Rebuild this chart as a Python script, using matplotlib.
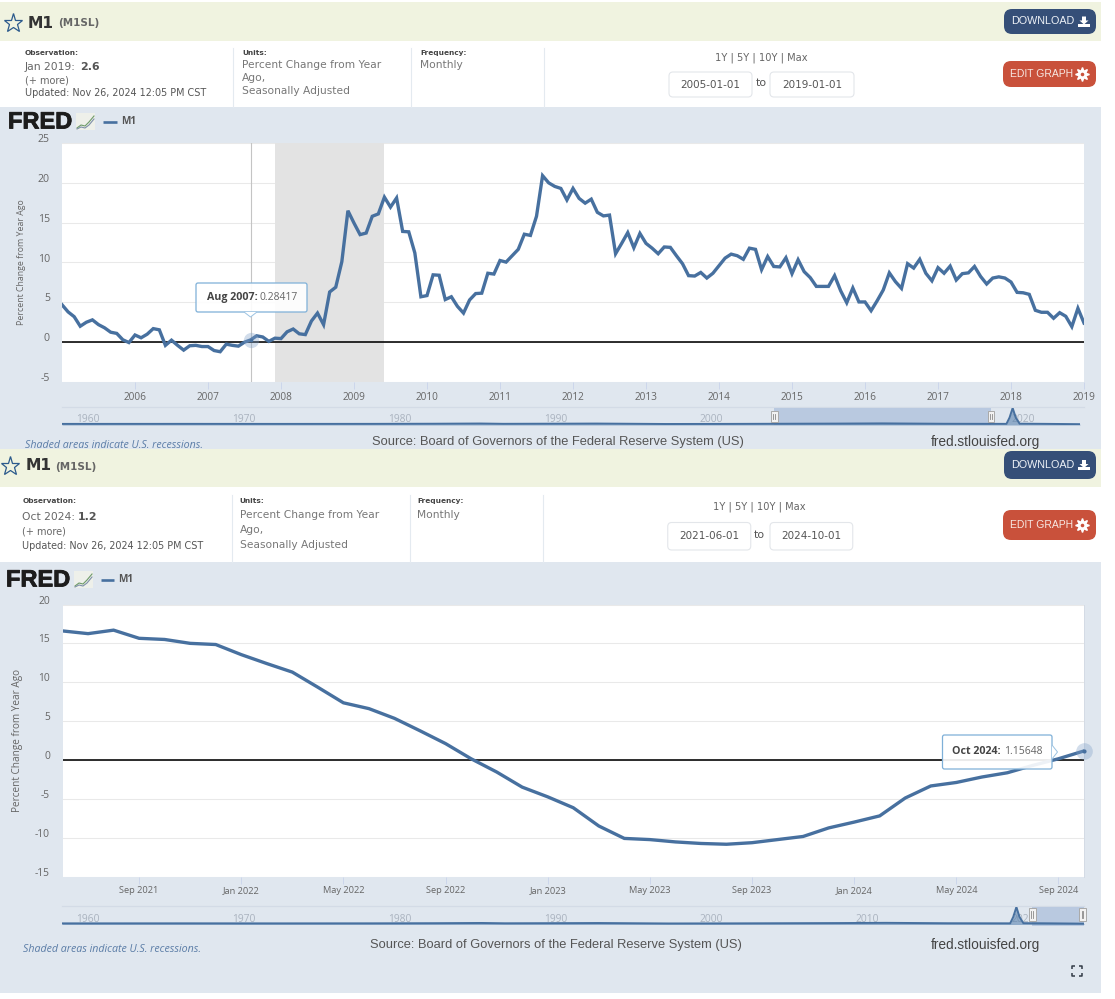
import matplotlib
matplotlib.use("Agg")
import matplotlib.pyplot as plt
import matplotlib.patheffects as pe
import numpy as np
from matplotlib.patches import Rectangle, FancyBboxPatch, Polygon
from matplotlib.transforms import ScaledTranslation

W, H = 1115, 999
BEIGE = '#f0f3e0'; PANEL = '#e0e7ef'; LINE = '#47709f'; GRID = '#e9e9e9'; TICK = '#666666'
SANS = 'Open Sans'; HEAD = 'DejaVu Sans'; SRC = 'Liberation Sans'

# ---------- data ----------
m1_long = [4.7,3.8,3.2,2.0,2.5,2.8,2.2,1.8,1.25,1.1,0.3,-0.05,
           0.9,0.55,1.0,1.7,1.55,-0.4,0.25,-0.4,-1.0,-0.45,-0.4,-0.55,
           -0.55,-1.05,-1.2,-0.25,-0.4,-0.5,0.0,0.28417,0.8,0.65,0.1,0.5,
           0.45,1.3,1.65,1.05,0.95,2.65,3.65,2.2,6.3,6.9,10.1,16.5,
           14.95,13.5,13.7,15.8,16.1,18.2,16.95,18.1,13.9,13.85,11.2,5.7,
           5.85,8.45,8.4,5.35,5.7,4.5,3.65,5.3,6.1,6.15,8.65,8.55,
           10.25,10.05,10.85,11.65,13.55,13.4,15.8,20.9,20.0,19.55,19.3,17.85,
           19.3,18.05,17.45,17.95,16.3,15.85,15.95,11.1,12.4,13.75,11.85,13.65,
           12.4,11.8,11.1,11.95,11.9,10.85,9.85,8.35,8.3,8.75,8.05,8.65,
           9.6,10.55,11.05,10.85,10.4,11.8,11.65,9.1,10.75,9.5,9.45,10.6,
           8.6,10.35,8.85,8.1,7.0,7.0,7.0,8.35,6.45,4.95,6.8,5.05,
           5.05,3.95,5.2,6.55,8.7,7.6,6.75,9.85,9.3,10.4,8.65,7.7,
           9.35,8.65,9.55,7.8,8.6,8.7,9.5,8.25,7.3,8.05,8.2,8.05,
           7.55,6.25,6.2,6.0,4.0,3.75,3.75,3.0,3.7,3.25,1.95,4.25,2.4]
m1_short = [16.6,16.25,16.7,15.65,15.5,15.0,14.85,13.55,12.4,11.3,9.35,7.35,6.6,5.35,
            3.75,2.1,0.15,-1.55,-3.5,-4.75,-6.15,-8.5,-10.1,-10.25,-10.55,-10.75,-10.85,
            -10.65,-10.25,-9.85,-8.75,-8.0,-7.2,-4.9,-3.35,-2.9,-2.2,-1.65,-0.7,0.15,1.15648]
long_years = ['2006','2007','2008','2009','2010','2011','2012','2013','2014','2015','2016','2017','2018','2019']
long_year_pos = [12,24,36,48,60,72,84,96,108,120,132,144,156,168]
short_labels = ['Sep 2021','Jan 2022','May 2022','Sep 2022','Jan 2023','May 2023','Sep 2023','Jan 2024','May 2024','Sep 2024']
short_pos = [3,7,11,15,19,23,27,31,35,39]
long_yticks = [-5,0,5,10,15,20,25]
short_yticks = [-15,-10,-5,0,5,10,15,20]
recession_start, recession_end = 35, 53
nav_years = [1959,1967,1973,1979,1983,1986,1987.5,1992,1993.5,1998,2002,2009,2012,2016,2020.0,2020.2,2020.4,2020.6,2020.85,2022.5,2024.75]
nav_vals = [5,6,5,6,9,14,7,11,13,3,5,12,17,8,6,150,370,150,10,6,-1]
nav_labels = ['1960','1970','1980','1990','2000','2010','2020']

# ---------- helpers ----------
fig = plt.figure(figsize=(W/100, H/100), dpi=100, facecolor='white')
def px_axes(x0, y0, x1, y1, **kw):
    return fig.add_axes([x0/W, 1-y1/H, (x1-x0)/W, (y1-y0)/H], **kw)

bg = px_axes(0, 0, W, H); bg.set_xlim(0, W); bg.set_ylim(H, 0); bg.axis('off'); bg.set_zorder(0)
top = px_axes(0, 0, W, H); top.set_xlim(0, W); top.set_ylim(H, 0); top.axis('off'); top.set_zorder(5); top.patch.set_alpha(0)

def T(x, y, s, size, color='#555555', weight='normal', ha='left', family=HEAD, style='normal', ax=bg, z=6, **kw):
    return ax.text(x, y, s, fontsize=size*0.72, color=color, fontweight=weight, ha=ha, va='center',
                   family=family, fontstyle=style, zorder=z, **kw)

def R(x0, y0, x1, y1, color, z=1, ax=bg, **kw):
    ax.add_patch(Rectangle((x0, y0), x1-x0, y1-y0, facecolor=color, edgecolor='none', zorder=z, **kw))

def RB(x0, y0, x1, y1, rad, fc, ec='none', z=3, ax=bg, lw=0.8):
    ax.add_patch(FancyBboxPatch((x0+rad, y0+rad), x1-x0-2*rad, y1-y0-2*rad, boxstyle=f'round,pad={rad},rounding_size={rad}',
                                facecolor=fc, edgecolor=ec, lw=lw, zorder=z, mutation_aspect=1))

def header(y_top, y_mid, y_pan, dx, star, my, obs_y, val, obs_s, dates, ysep, units_y, right_y, dl, ed):
    R(0, y_top, 1100.5, y_mid, BEIGE, z=5)
    R(0, y_mid, 1100.5, y_pan, 'white', z=5)
    bg.plot([star], [my], marker='*', ms=14, mfc='none', mec='#2c5a8c', mew=0.9, zorder=6)
    T(28-dx, my, 'M1', 15.5, '#333333', 'bold')
    T(58-dx, my+0.5, '(M1SL)', 10.4, '#666666', 'bold')
    T(25-dx, obs_y[0], 'Observation:', 7.4, '#444444', 'bold')
    T(25-dx, obs_y[1], obs_s, 10.7, '#666666')
    T(81-dx-0.5, obs_y[1], val, 11, '#555555', 'bold')
    T(25-dx, obs_y[2], '(+ more)', 9.8, '#666666')
    T(25-dx, obs_y[3], 'Updated: Nov 26, 2024 12:05 PM CST', 9.7, '#555555')
    for xs in ysep[1]:
        bg.plot([xs, xs], [ysep[0], y_pan], color='#e4eaf0', lw=0.8, zorder=6)
    T(242-dx, obs_y[0], 'Units:', 7.4, '#444444', 'bold')
    T(420-dx, obs_y[0], 'Frequency:', 7.4, '#444444', 'bold')
    for yy, s in zip(units_y, ['Percent Change from Year', 'Ago,', 'Seasonally Adjusted']):
        T(242-dx, yy, s, 10.6, '#777777')
    T(420-dx, units_y[0], 'Monthly', 10.6, '#777777')
    T(761-dx/2, right_y[0], '1Y | 5Y | 10Y | Max', 9.9, '#666666', ha='center')
    for (a, b), s in zip([(669-dx/2, 752-dx/2), (770, 854-dx/2)], dates):
        RB(a, right_y[1], b, right_y[2], 4, 'white', '#e3e6ea', z=6)
        T((a+b)/2, (right_y[1]+right_y[2])/2, s, 10.4, '#555555', ha='center', z=7)
    T(761-dx/2, (right_y[1]+right_y[2])/2-1, 'to', 11, '#555555', ha='center')
    RB(1004, dl[0], 1096, dl[1], 8, '#354f78', z=6)
    T(1011, (dl[0]+dl[1])/2, 'DOWNLOAD', 10.7, '#eef2f7', z=7, family=SRC)
    cy = (dl[0]+dl[1])/2
    bg.add_patch(Polygon([[1082, cy-5], [1086, cy-5], [1086, cy-1], [1088.5, cy-1], [1084, cy+3], [1079.5, cy-1], [1082, cy-1]],
                         facecolor='white', edgecolor='none', zorder=7))
    R(1078, cy+2, 1090, cy+5, 'white', z=7)
    RB(1003, ed[0], 1096, ed[1], 8, '#c9513b', z=6)
    T(1010, (ed[0]+ed[1])/2, 'EDIT GRAPH', 10.4, '#f7e9e4', z=7, family=SRC)
    bg.plot([1082], [(ed[0]+ed[1])/2], marker=(8, 1, 0), ms=10, mfc='white', mec='white', zorder=7)
    bg.plot([1082], [(ed[0]+ed[1])/2], marker='o', ms=2.6, mfc='#c9513b', mec='none', zorder=8)

def fred(x, y, icon_x, dash, mx):
    t = T(x, y, 'FRED', 23.6, '#1c1c1c', 'bold', family=SRC, z=6)
    t.set_path_effects([pe.withStroke(linewidth=0.6, foreground='#1c1c1c')])
    R(icon_x, y-9, icon_x+19, y+8, '#eef0ea', z=5)
    bg.plot(icon_x+np.array([1, 5, 9, 13, 18]), y+np.array([6, 3, 4, 0, -6]), color='#6e9a6a', lw=0.8, zorder=6)
    bg.plot(icon_x+np.array([1, 5, 9, 13, 18]), y+np.array([7, 5, 6, 3, -3]), color='#7d8fa8', lw=0.8, zorder=6)
    bg.plot(dash, [y, y], color=LINE, lw=1.9, zorder=6, solid_capstyle='butt')
    T(mx, y, 'M1', 10, '#555555', 'bold', family=SANS)

def chart(rect, vals, pos, labels, yticks, ylim, xfs, yfs):
    x0, y0, x1, y1 = rect
    ax = px_axes(x0, y0, x1, y1)
    ax.set_zorder(2)
    ax.set_xlim(0, len(vals)-1); ax.set_ylim(*ylim)
    for s in ax.spines.values():
        s.set_visible(False)
    ax.set_yticks(yticks, [str(v) for v in yticks])
    ax.set_xticks(pos, labels)
    ax.tick_params(axis='y', length=0, pad=(x0-50)*0.72, labelsize=yfs*0.72, labelcolor=TICK)
    ax.tick_params(axis='x', length=7*0.72, width=0.7, color='#ccd6eb', pad=2.5*0.72, labelsize=xfs*0.72, labelcolor=TICK)
    for l in ax.get_yticklabels() + ax.get_xticklabels():
        l.set_family(SANS)
    for l in ax.get_yticklabels():
        l.set_transform(l.get_transform() + ScaledTranslation(0, 5/100, fig.dpi_scale_trans))
    ax.grid(axis='y', color=GRID, lw=0.75)
    ax.set_axisbelow(True)
    ax.axhline(0, color='black', lw=1.15, zorder=3)
    ax.plot(range(len(vals)), vals, color=LINE, lw=2.4, zorder=4, solid_joinstyle='miter', clip_on=True)
    return ax

def navigator(xend, y0, y1, sel, handles, label_y, ext, hy):
    bg.plot([62, 1084], [y0-1, y0-1], color='#d3dbe6', lw=0.9, zorder=2)
    for yr, s in zip(range(1960, 2030, 10), nav_labels):
        T(88+(yr-1960)*15.58, label_y, s, 10.3, '#aab3bf', ha='center', family=SANS, z=2)
    ax = px_axes(62, y0, xend, y1)
    ax.axis('off'); ax.patch.set_alpha(0); ax.set_zorder(3)
    ax.set_xlim(1959, 2024.75); ax.set_ylim(-20, 370)
    ax.axvspan(sel[0], sel[1], ymin=ext, ymax=1, color='#b9c9e0', zorder=1, lw=0, clip_on=False)
    ax.fill_between(nav_years, nav_vals, -20, color='#4f7bab', alpha=0.55, lw=0, zorder=2)
    ax.plot(nav_years, nav_vals, color=LINE, lw=1.4, zorder=3)
    tr = ax.get_xaxis_transform()
    for yr in handles:
        ax.add_patch(Rectangle((yr-0.22, hy[0]), 0.44, hy[1]-hy[0], transform=tr, facecolor='#f2f2f2', edgecolor='#a9a9a9', lw=0.7, zorder=5, clip_on=False))
        ax.plot([yr-0.06, yr-0.06], [hy[0]+0.15, hy[1]-0.15], transform=tr, color='#888888', lw=0.6, zorder=6, clip_on=False)
        ax.plot([yr+0.06, yr+0.06], [hy[0]+0.15, hy[1]-0.15], transform=tr, color='#888888', lw=0.6, zorder=6, clip_on=False)
    return ax

def tooltip(b, pointer, text_x, sep, bold, val, y):
    x0, y0, x1, y1 = b
    top.add_patch(FancyBboxPatch((x0+2, y0+2), x1-x0-4, y1-y0-4, boxstyle='round,pad=2,rounding_size=2',
                                 facecolor='#ffffffe8', edgecolor='#7fb0d8', lw=0.9, zorder=3))
    top.add_patch(Polygon(pointer, closed=False, facecolor='white', edgecolor='#9cc3e2', lw=0.7, zorder=4))
    T(text_x, y, bold, 10.6, '#444444', 'bold', family=SANS, ax=top, z=6)
    T(sep, y, val, 10.4, '#666666', family=SANS, ax=top, z=6)

# ---------- page panels ----------
R(0, 107, 1100.5, 449, PANEL, z=1)
R(0, 562, 1100.5, 992.5, PANEL, z=1)

header(2, 41, 107, 0, 12.5, 23, [53, 66.5, 80.5, 93], '2.6', 'Jan 2019:', ('2005-01-01', '2019-01-01'),
       (48, [233, 411, 544]), [64.5, 78, 91], [58, 72, 97], (9, 34), (61, 87))
header(449, 487, 562, 2.5, 10, 466, [501, 517, 532, 546], '1.2', 'Oct 2024:', ('2021-06-01', '2024-10-01'),
       (495, [231.5, 409.5, 543]), [514.5, 530, 544.5], [507, 522.5, 550], (451, 479), (510, 540))

fred(8, 122, 76, [103, 117], 121)
fred(6, 580, 74, [101, 114], 118)

# ---------- charts ----------
ax1 = chart((62, 143, 1084, 382), m1_long, long_year_pos, long_years, long_yticks, (-5, 25), 10, 10.5)
ax1.axvspan(recession_start, recession_end, color='#e3e3e3', lw=0, zorder=1)
ax1.axvline(31, color='#c4c4c4', lw=0.8, zorder=2)
ax1.plot([31], [m1_long[31]], marker='o', ms=11, mfc='#7fa0c8', mec='none', alpha=0.35, zorder=5, clip_on=False)
ax1.plot([31], [m1_long[31]], marker='o', ms=2.6, mfc=LINE, mec='none', zorder=6)

ax2 = chart((62.5, 604.5, 1084, 876.5), m1_short, short_pos, short_labels, short_yticks, (-15, 20), 9.3, 10.2)
ax2.plot([40], [m1_short[40]], marker='o', ms=12, mfc='#7fa0c8', mec='none', alpha=0.35, zorder=5, clip_on=False)
ax2.plot([40], [m1_short[40]], marker='o', ms=3, mfc=LINE, mec='none', zorder=6, clip_on=False)
ax2.spines['right'].set_visible(True); ax2.spines['right'].set_color('#d4dbe5'); ax2.spines['right'].set_linewidth(0.7)

T(22, 262, 'Percent Change from Year Ago', 8.8, TICK, family=SANS, ha='center', rotation=90, rotation_mode='anchor')
T(18, 740, 'Percent Change from Year Ago', 10, TICK, family=SANS, ha='center', rotation=90, rotation_mode='anchor')

navigator(1080, 408, 425, (2005, 2019), (2005, 2019), 419, 0, (0.18, 0.82))
navigator(1084, 907, 924.5, (2021.42, 2024.75), (2021.42, 2024.65), 919, -0.09, (0.2, 0.94))

tooltip((196, 283, 307, 312), [[244, 312], [250.5, 317], [257, 312]], 207, 259, 'Aug 2007:', '0.28417', 297.5)
tooltip((942.5, 735, 1052, 769), [[1052, 745], [1057.5, 752], [1052, 759]], 952.5, 1004, 'Oct 2024:', '1.15648', 751.5)

# ---------- footers ----------
T(25, 446, 'Shaded areas indicate U.S. recessions.', 10.6, '#5a7ca6', style='italic', family=SANS, z=2)
T(372, 442, 'Source: Board of Governors of the Federal Reserve System (US)', 12.95, '#555555', family=SRC, z=2)
T(931, 442, 'fred.stlouisfed.org', 13.7, '#444444', family=SRC, z=2)
T(23, 949, 'Shaded areas indicate U.S. recessions.', 10.6, '#5a7ca6', style='italic', family=SANS, z=2)
T(370, 945, 'Source: Board of Governors of the Federal Reserve System (US)', 12.95, '#555555', family=SRC, z=2)
T(931, 945, 'fred.stlouisfed.org', 13.7, '#444444', family=SRC, z=2)

# expand icon
for (cx, cy, dx, dy) in [(1071.5, 965.5, 1, 1), (1081.5, 965.5, -1, 1), (1071.5, 975.5, 1, -1), (1081.5, 975.5, -1, -1)]:
    bg.plot([cx+3*dx, cx, cx], [cy, cy, cy+3*dy], color='#333c47', lw=1.1, zorder=6, solid_capstyle='butt')

fig.savefig('out.png', dpi=100, facecolor='white')
